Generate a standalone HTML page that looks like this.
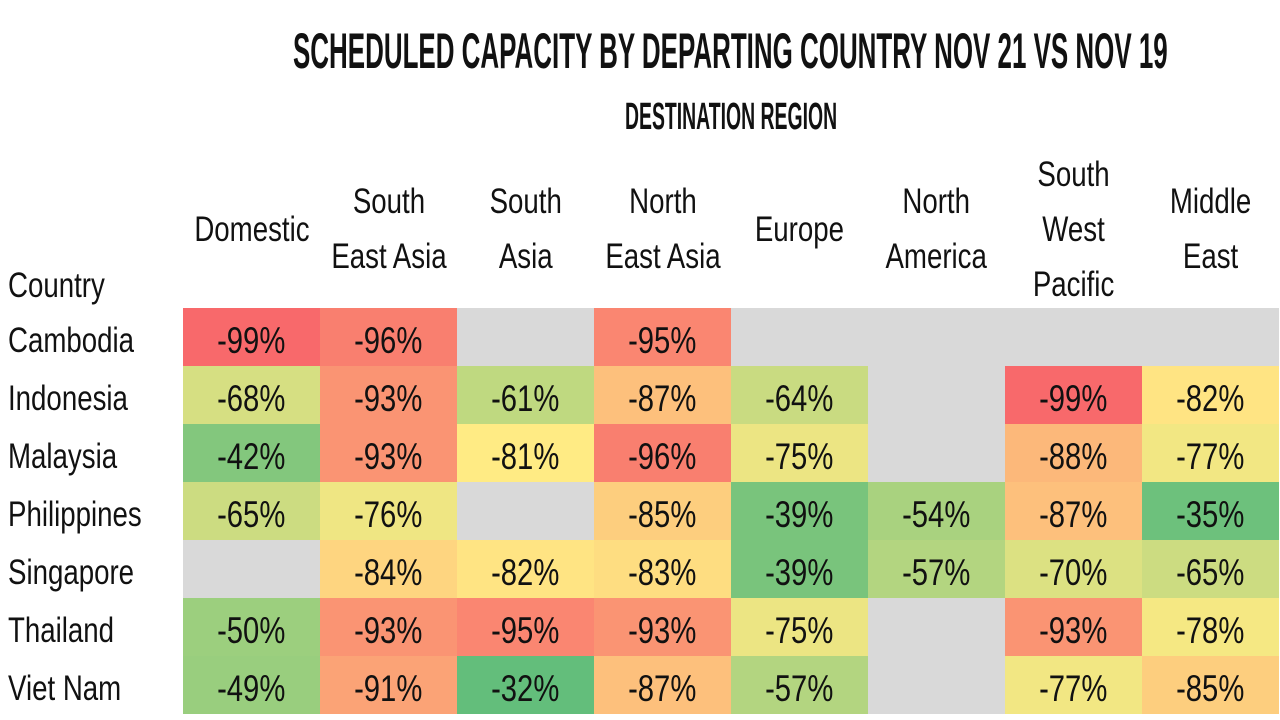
<!DOCTYPE html>
<html><head><meta charset="utf-8"><style>
body{margin:0;width:1280px;height:720px;background:#fff;overflow:hidden;position:relative;font-family:"Liberation Sans Narrow","Liberation Sans",sans-serif;color:#111}
.t{position:absolute;white-space:nowrap;transform-origin:0 0;font-weight:bold;line-height:1}
.cell{position:absolute;width:137px;height:58px;display:flex;align-items:center;justify-content:center;font-size:37px;box-sizing:border-box;padding-top:8px}
.cell span,.hd span,.rl span{display:inline-block;transform:scaleX(.79);white-space:nowrap}
.hd{position:absolute;width:137px;top:149px;height:160px;display:flex;align-items:center;justify-content:center;text-align:center;font-size:35px;line-height:55px;white-space:nowrap}
.rl{position:absolute;left:8px;font-size:35px;height:58px;display:flex;align-items:center;box-sizing:border-box;padding-top:8px}
.rl span{transform-origin:0 50%}
</style></head><body>
<div class="t" id="title" style="left:293px;top:26px;font-size:50px">SCHEDULED CAPACITY BY DEPARTING COUNTRY NOV 21 VS NOV 19</div>
<div class="t" id="sub" style="left:625px;top:98px;font-size:38px">DESTINATION REGION</div>
<div id="g"></div>
<script>
const t=document.getElementById('title');t.style.transform='scaleX('+(875/t.offsetWidth)+')';
const s=document.getElementById('sub');s.style.transform='scaleX('+(212/s.offsetWidth)+')';
const heads=["Domestic","South<br>East Asia","South<br>Asia","North<br>East Asia","Europe","North<br>America","South<br>West<br>Pacific","Middle<br>East"];
const rows=[["Cambodia",[-99,-96,null,-95,null,null,null,null]],
["Indonesia",[-68,-93,-61,-87,-64,null,-99,-82]],
["Malaysia",[-42,-93,-81,-96,-75,null,-88,-77]],
["Philippines",[-65,-76,null,-85,-39,-54,-87,-35]],
["Singapore",[null,-84,-82,-83,-39,-57,-70,-65]],
["Thailand",[-50,-93,-95,-93,-75,null,-93,-78]],
["Viet Nam",[-49,-91,-32,-87,-57,null,-77,-85]]];
const R=[248,105,107],Y=[255,235,132],G=[99,190,123];
function mix(a,b,t){return 'rgb('+a.map((v,i)=>Math.round(v+(b[i]-v)*t)).join(',')+')'}
function col(v){if(v<=-81)return mix(R,Y,(v+99)/18);return mix(Y,G,(v+81)/49)}
let h='';
heads.forEach((x,i)=>{h+=`<div class="hd" style="left:${183+137*i}px"><span>${x}</span></div>`});
h+=`<div class="rl" style="top:253px"><span>Country</span></div>`;
rows.forEach((r,j)=>{const y=308+58*j;
h+=`<div class="rl" style="top:${y}px"><span>${r[0]}</span></div>`;
r[1].forEach((v,i)=>{const x=183+137*i;
h+=`<div class="cell" style="left:${x}px;top:${y}px;background:${v==null?'#d9d9d9':col(v)}">${v==null?'':'<span>'+v+'%</span>'}</div>`});});
document.getElementById('g').innerHTML=h;
</script>
</body></html>
